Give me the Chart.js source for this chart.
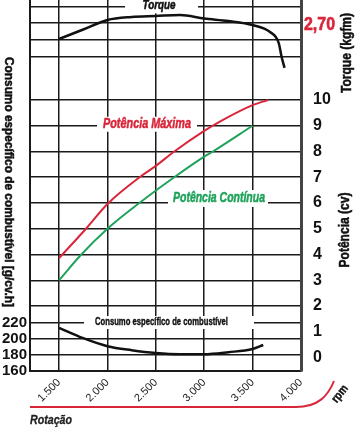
<!DOCTYPE html>
<html><head><meta charset="utf-8">
<script src="https://cdn.jsdelivr.net/npm/chart.js@4.4.1/dist/chart.umd.min.js"></script>
<style>html,body{margin:0;padding:0;background:#fff;}canvas{display:block;}</style>
</head><body>
<canvas id="c" width="356" height="428"></canvas>
<script>
// ---- tick values / labels ----
const rpmTicks = [1500, 2000, 2500, 3000, 3500, 4000];
const rpmTickLabels = ['1.500', '2.000', '2.500', '3.000', '3.500', '4.000'];
const powerTicks = [0, 1, 2, 3, 4, 5, 6, 7, 8, 9, 10];
const consTicks = [160, 180, 200, 220];
const torqueTicks = [2.5, 2.6, 2.7, 2.8];
const torqueLabelValue = 2.7;
const torqueLabelText = '2,70';

// ---- series ----
const torqueRpm  = [1500, 1750, 2000, 2250, 2500, 2750, 3000, 3250, 3500, 3680, 3770, 3800, 3830];
const torqueKgfm = [2.604, 2.661, 2.718, 2.736, 2.742, 2.748, 2.727, 2.712, 2.688, 2.646, 2.580, 2.496, 2.431];

const consRpm  = [1500, 1750, 2000, 2250, 2500, 2750, 3000, 3250, 3500, 3610];
const consGcvh = [214, 201, 191, 186, 182.5, 181, 181, 183.5, 187.5, 192.5];

const maxPowerRpm = [1500, 1790, 2000, 2350, 2500, 2680, 3000, 3180, 3500, 3660];
const maxPowerCv  = [3.86, 5.05, 5.96, 7.05, 7.44, 7.97, 8.8, 9.2, 9.8, 10.0];

const contPowerRpm = [1500, 1730, 2000, 2330, 2690, 3000, 3090, 3500];
const contPowerCv  = [3.0, 4.0, 5.0, 6.0, 7.0, 7.8, 8.0, 9.0];

const FONT = "'Liberation Sans','Arimo',Arial,sans-serif";
const RED = '#d9263a';
const GREEN = '#1ea35a';
const GRID = '#1a1a1a';

const pts = (xs, ys) => xs.map((x, i) => ({x: x, y: ys[i]}));
const setTicks = vals => s => { s.ticks = vals.map(v => ({value: v})); };
const zeroPad = w => s => { s.width = w; s.paddingTop = 0; s.paddingBottom = 0; };

function fitText(ctx, text, x, y, w, font, color, angle, align, heavy) {
  ctx.save();
  ctx.font = font;
  const m = ctx.measureText(text).width;
  ctx.translate(x, y);
  if (angle) ctx.rotate(angle);
  ctx.scale(w / m, 1);
  ctx.fillStyle = color;
  ctx.textAlign = align || 'center';
  ctx.textBaseline = 'middle';
  ctx.fillText(text, 0, 0);
  if (heavy) { ctx.strokeStyle = color; ctx.lineWidth = heavy; ctx.strokeText(text, 0, 0); }
  ctx.restore();
}

const plugin = {
  id: 'deco',
  beforeDatasetsDraw(chart) {
    const ctx = chart.ctx;
    const yP = chart.scales.yP, yT = chart.scales.yT, yC = chart.scales.yC;
    function lab(text, cx, cy, w, x0, x1, y0, y1, font, color, heavy) {
      ctx.save();
      ctx.fillStyle = '#fff';
      ctx.fillRect(x0, y0, x1 - x0, y1 - y0);
      ctx.restore();
      fitText(ctx, text, cx, cy, w, font, color, 0, 'center', heavy);
    }
    const tY = yT.getPixelForValue(2.8);
    lab('Torque', 159, tY - 1, 33, 125, 198, tY - 7, tY + 7, "italic bold 12px " + FONT, '#111', 0.5);
    const mY = yP.getPixelForValue(9);
    lab('Potência Máxima', 147, mY - 2, 88, 97, 197, mY - 9, mY + 6, "italic bold 14px " + FONT, RED, 0.5);
    const cY = yP.getPixelForValue(6);
    lab('Potência Contínua', 219, cY - 5, 92, 168, 268, cY - 13, cY + 4, "italic bold 14px " + FONT, GREEN, 0.5);
    const sY = yC.getPixelForValue(220);
    lab('Consumo específico de combustível', 161.5, sY - 1, 133, 84, 254, sY - 7, sY + 6, "bold 11px " + FONT, '#111', 0.4);
  },
  afterDraw(chart) {
    const ctx = chart.ctx;
    const yT = chart.scales.yT;
    fitText(ctx, torqueLabelText, 304, yT.getPixelForValue(torqueLabelValue) + 2, 31, "bold 18px " + FONT, RED, 0, 'left', 0.6);
    fitText(ctx, 'Consumo específico de combustível [g/cv.h]', 9, 182, 250, "bold 13px " + FONT, '#111', Math.PI / 2, 'center', 0.5);
    fitText(ctx, 'Torque (kgfm)', 347, 53, 80, "bold 14px " + FONT, '#111', -Math.PI / 2, 'center', 0.5);
    fitText(ctx, 'Potência (cv)', 345, 230, 75, "bold 14px " + FONT, '#111', -Math.PI / 2, 'center', 0.5);
    fitText(ctx, 'rpm', 340, 394, 19, "bold 12px " + FONT, '#111', -0.9, 'center', 0.4);
    fitText(ctx, 'Rotação', 30, 420, 42, "italic bold 13px " + FONT, '#222', 0, 'left', 0.3);
    ctx.save();
    ctx.strokeStyle = RED; ctx.lineWidth = 2;
    ctx.beginPath(); ctx.moveTo(30, 407); ctx.lineTo(296, 407);
    ctx.bezierCurveTo(318, 407, 328, 396, 334, 381); ctx.stroke();
    ctx.restore();
  }
};

new Chart(document.getElementById('c'), {
  type: 'line',
  data: {
    datasets: [
      {data: pts(torqueRpm, torqueKgfm), yAxisID: 'yT', borderColor: '#111', borderWidth: 2.5},
      {data: pts(consRpm, consGcvh), yAxisID: 'yC', borderColor: '#111', borderWidth: 2.5},
      {data: pts(maxPowerRpm, maxPowerCv), yAxisID: 'yP', borderColor: RED, borderWidth: 2},
      {data: pts(contPowerRpm, contPowerCv), yAxisID: 'yP', borderColor: GREEN, borderWidth: 2}
    ]
  },
  options: {
    responsive: false, animation: false, devicePixelRatio: 1,
    layout: {padding: 0},
    elements: {point: {radius: 0}, line: {cubicInterpolationMode: 'monotone', fill: false}},
    plugins: {legend: {display: false}, tooltip: {enabled: false}},
    scales: {
      x: {
        type: 'linear', position: 'bottom', min: 1200, max: 4000,
        afterBuildTicks: setTicks(rpmTicks),
        afterFit: s => { s.height = 57; s.paddingLeft = 0; s.paddingRight = 0; },
        grid: {color: c => c.tick && c.tick.value === 4000 ? 'rgba(0,0,0,0)' : GRID, lineWidth: 1.5, drawTicks: false},
        border: {display: true, color: GRID, width: 2},
        ticks: {autoSkip: false, minRotation: 45, maxRotation: 45, padding: 5, color: '#222',
          font: {family: FONT, size: 11},
          callback: v => rpmTickLabels[rpmTicks.indexOf(v)]}
      },
      yC: {
        type: 'linear', position: 'left', min: 160, max: 623.75,
        afterBuildTicks: setTicks(consTicks), afterFit: zeroPad(30),
        grid: {color: c => c.tick && c.tick.value === 160 ? 'rgba(0,0,0,0)' : GRID, lineWidth: 1.5, drawTicks: false},
        border: {display: true, color: GRID, width: 2},
        ticks: {autoSkip: false, padding: 3, color: '#111', font: {family: FONT, size: 15, weight: 'bold'},
          callback: v => String(v)}
      },
      yT: {
        type: 'linear', position: 'right', weight: 0, min: 0.6162, max: 2.8377,
        afterBuildTicks: setTicks(torqueTicks), afterFit: zeroPad(0),
        grid: {color: GRID, lineWidth: 1.5, drawTicks: false},
        border: {display: false},
        ticks: {display: false}
      },
      yP: {
        type: 'linear', position: 'right', weight: 1, min: -0.524, max: 13.883,
        afterBuildTicks: setTicks(powerTicks), afterFit: zeroPad(55),
        grid: {color: c => c.tick && c.tick.value < 2 ? 'rgba(0,0,0,0)' : GRID, lineWidth: 1.5, drawTicks: false},
        border: {display: true, color: '#444', width: 3},
        ticks: {autoSkip: false, padding: 12, color: '#111', font: {family: FONT, size: 16, weight: 'bold'},
          callback: v => String(v)}
      }
    }
  },
  plugins: [plugin]
});
</script>
</body></html>
